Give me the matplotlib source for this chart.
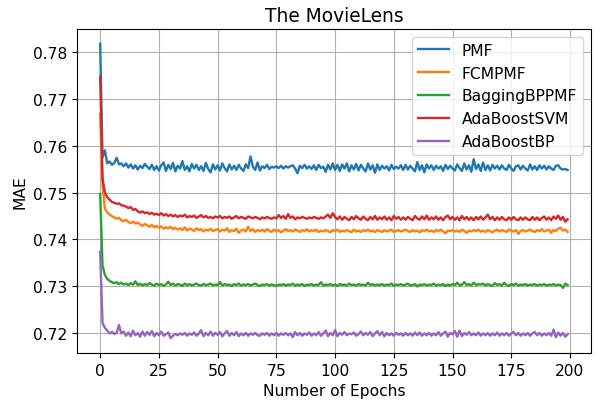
import matplotlib
matplotlib.use("Agg")
import matplotlib.pyplot as plt

# MAE per epoch (200 epochs each)

pmf = [
    0.7817, 0.7575, 0.7590, 0.7562, 0.7566, 0.7559, 0.7563, 0.7574, 0.7560, 0.7562,
    0.7556, 0.7562, 0.7553, 0.7560, 0.7551, 0.7558, 0.7549, 0.7557, 0.7552, 0.7561,
    0.7555, 0.7550, 0.7559, 0.7548, 0.7556, 0.7547, 0.7558, 0.7564, 0.7546, 0.7559,
    0.7550, 0.7563, 0.7545, 0.7557, 0.7551, 0.7567, 0.7548, 0.7556, 0.7545, 0.7561,
    0.7551, 0.7559, 0.7548, 0.7556, 0.7546, 0.7563, 0.7550, 0.7543, 0.7560, 0.7549,
    0.7558, 0.7547, 0.7562, 0.7552, 0.7545, 0.7560, 0.7549, 0.7557, 0.7548, 0.7559,
    0.7551, 0.7546, 0.7560, 0.7552, 0.7577, 0.7555, 0.7548, 0.7564, 0.7547, 0.7556,
    0.7552, 0.7559, 0.7550, 0.7555, 0.7553, 0.7556, 0.7552, 0.7557, 0.7551, 0.7556,
    0.7553, 0.7556, 0.7558, 0.7551, 0.7541, 0.7557, 0.7552, 0.7559, 0.7551, 0.7556,
    0.7550, 0.7558, 0.7548, 0.7559, 0.7552, 0.7555, 0.7544, 0.7559, 0.7549, 0.7562,
    0.7548, 0.7559, 0.7546, 0.7560, 0.7551, 0.7562, 0.7545, 0.7558, 0.7549, 0.7561,
    0.7547, 0.7559, 0.7551, 0.7545, 0.7562, 0.7549, 0.7558, 0.7542, 0.7560, 0.7548,
    0.7557, 0.7551, 0.7556, 0.7547, 0.7559, 0.7550, 0.7555, 0.7551, 0.7558, 0.7548,
    0.7559, 0.7549, 0.7557, 0.7551, 0.7545, 0.7565, 0.7548, 0.7558, 0.7543, 0.7560,
    0.7551, 0.7558, 0.7548, 0.7557, 0.7551, 0.7556, 0.7546, 0.7559, 0.7550, 0.7557,
    0.7551, 0.7547, 0.7560, 0.7552, 0.7546, 0.7562, 0.7549, 0.7558, 0.7544, 0.7571,
    0.7550, 0.7560, 0.7546, 0.7564, 0.7548, 0.7558, 0.7547, 0.7559, 0.7551, 0.7557,
    0.7549, 0.7558, 0.7551, 0.7548, 0.7559, 0.7551, 0.7546, 0.7556, 0.7558, 0.7549,
    0.7557, 0.7551, 0.7547, 0.7560, 0.7549, 0.7556, 0.7548, 0.7558, 0.7551, 0.7557,
    0.7549, 0.7556, 0.7551, 0.7548, 0.7557, 0.7558, 0.7551, 0.7549, 0.7550, 0.7548,
]

fcmpmf = [
    0.7667, 0.7515, 0.7466, 0.7458, 0.7453, 0.7450, 0.7447, 0.7444, 0.7446, 0.7441,
    0.7439, 0.7442, 0.7437, 0.7435, 0.7438, 0.7434, 0.7436, 0.7432, 0.7429, 0.7433,
    0.7430, 0.7427, 0.7431, 0.7426, 0.7429, 0.7425, 0.7428, 0.7423, 0.7426, 0.7424,
    0.7427, 0.7422, 0.7425, 0.7421, 0.7424, 0.7420, 0.7426, 0.7419, 0.7423, 0.7421,
    0.7418, 0.7424, 0.7420, 0.7422, 0.7417, 0.7421, 0.7419, 0.7423, 0.7418, 0.7420,
    0.7422, 0.7417, 0.7421, 0.7419, 0.7424, 0.7416, 0.7420, 0.7418, 0.7423, 0.7414,
    0.7419, 0.7421, 0.7417, 0.7427, 0.7418, 0.7422, 0.7416, 0.7420, 0.7418, 0.7421,
    0.7417, 0.7422, 0.7419, 0.7416, 0.7421, 0.7418, 0.7420, 0.7415, 0.7419, 0.7422,
    0.7418, 0.7420, 0.7417, 0.7421, 0.7419, 0.7416, 0.7420, 0.7418, 0.7422, 0.7417,
    0.7420, 0.7418, 0.7421, 0.7416, 0.7419, 0.7417, 0.7420, 0.7418, 0.7415, 0.7420,
    0.7418, 0.7421, 0.7416, 0.7419, 0.7417, 0.7420, 0.7418, 0.7415, 0.7421, 0.7417,
    0.7419, 0.7416, 0.7420, 0.7418, 0.7421, 0.7417, 0.7419, 0.7416, 0.7420, 0.7418,
    0.7416, 0.7420, 0.7417, 0.7419, 0.7421, 0.7416, 0.7418, 0.7420, 0.7417, 0.7419,
    0.7421, 0.7418, 0.7416, 0.7420, 0.7417, 0.7419, 0.7415, 0.7420, 0.7418, 0.7421,
    0.7417, 0.7419, 0.7416, 0.7420, 0.7418, 0.7421, 0.7417, 0.7413, 0.7419, 0.7418,
    0.7420, 0.7417, 0.7419, 0.7416, 0.7421, 0.7418, 0.7414, 0.7419, 0.7417, 0.7420,
    0.7418, 0.7421, 0.7417, 0.7419, 0.7416, 0.7420, 0.7418, 0.7415, 0.7419, 0.7421,
    0.7417, 0.7420, 0.7418, 0.7416, 0.7421, 0.7419, 0.7417, 0.7420, 0.7412, 0.7418,
    0.7420, 0.7417, 0.7419, 0.7421, 0.7418, 0.7416, 0.7420, 0.7418, 0.7422, 0.7417,
    0.7419, 0.7421, 0.7414, 0.7420, 0.7418, 0.7423, 0.7425, 0.7419, 0.7421, 0.7416,
]

bagging_bppmf = [
    0.7497, 0.7345, 0.7325, 0.7316, 0.7312, 0.7309, 0.7307, 0.7309, 0.7305, 0.7308,
    0.7304, 0.7306, 0.7303, 0.7307, 0.7304, 0.7311, 0.7303, 0.7306, 0.7302, 0.7305,
    0.7303, 0.7307, 0.7304, 0.7302, 0.7306, 0.7303, 0.7305, 0.7301, 0.7304, 0.7310,
    0.7303, 0.7306, 0.7302, 0.7305, 0.7304, 0.7301, 0.7306, 0.7303, 0.7305, 0.7302,
    0.7304, 0.7306, 0.7303, 0.7302, 0.7305, 0.7303, 0.7304, 0.7306, 0.7302, 0.7304,
    0.7303, 0.7309, 0.7302, 0.7305, 0.7303, 0.7304, 0.7301, 0.7305, 0.7303, 0.7306,
    0.7302, 0.7304, 0.7303, 0.7305, 0.7302, 0.7304, 0.7306, 0.7303, 0.7301, 0.7304,
    0.7303, 0.7305, 0.7302, 0.7304, 0.7303, 0.7301, 0.7304, 0.7303, 0.7305, 0.7302,
    0.7304, 0.7303, 0.7306, 0.7302, 0.7304, 0.7303, 0.7305, 0.7301, 0.7304, 0.7303,
    0.7305, 0.7302, 0.7304, 0.7303, 0.7309, 0.7302, 0.7304, 0.7303, 0.7305, 0.7302,
    0.7304, 0.7301, 0.7305, 0.7303, 0.7304, 0.7302, 0.7306, 0.7303, 0.7304, 0.7302,
    0.7305, 0.7303, 0.7304, 0.7302, 0.7308, 0.7303, 0.7305, 0.7302, 0.7304, 0.7303,
    0.7305, 0.7302, 0.7304, 0.7303, 0.7306, 0.7301, 0.7304, 0.7303, 0.7305, 0.7302,
    0.7304, 0.7306, 0.7302, 0.7303, 0.7305, 0.7300, 0.7304, 0.7303, 0.7305, 0.7302,
    0.7304, 0.7303, 0.7306, 0.7302, 0.7304, 0.7303, 0.7305, 0.7301, 0.7304, 0.7302,
    0.7305, 0.7303, 0.7308, 0.7302, 0.7304, 0.7309, 0.7303, 0.7305, 0.7302, 0.7308,
    0.7303, 0.7305, 0.7304, 0.7306, 0.7302, 0.7305, 0.7303, 0.7301, 0.7307, 0.7303,
    0.7305, 0.7302, 0.7308, 0.7303, 0.7301, 0.7305, 0.7303, 0.7306, 0.7302, 0.7304,
    0.7303, 0.7305, 0.7302, 0.7304, 0.7303, 0.7305, 0.7302, 0.7304, 0.7303, 0.7305,
    0.7302, 0.7304, 0.7303, 0.7305, 0.7302, 0.7304, 0.7303, 0.7297, 0.7306, 0.7303,
]

adaboost_svm = [
    0.7747, 0.7530, 0.7500, 0.7490, 0.7485, 0.7480, 0.7478, 0.7476, 0.7477, 0.7473,
    0.7472, 0.7470, 0.7467, 0.7469, 0.7463, 0.7465, 0.7460, 0.7457, 0.7460, 0.7456,
    0.7458, 0.7454, 0.7457, 0.7453, 0.7455, 0.7452, 0.7456, 0.7451, 0.7454, 0.7450,
    0.7453, 0.7449, 0.7452, 0.7448, 0.7451, 0.7449, 0.7453, 0.7447, 0.7450, 0.7448,
    0.7451, 0.7446, 0.7449, 0.7452, 0.7447, 0.7450, 0.7446, 0.7448, 0.7445, 0.7449,
    0.7447, 0.7450, 0.7445, 0.7448, 0.7446, 0.7449, 0.7444, 0.7447, 0.7450, 0.7445,
    0.7448, 0.7446, 0.7444, 0.7449, 0.7447, 0.7445, 0.7448, 0.7446, 0.7443, 0.7447,
    0.7445, 0.7448, 0.7446, 0.7444, 0.7447, 0.7445, 0.7452, 0.7446, 0.7450, 0.7444,
    0.7454, 0.7446, 0.7449, 0.7443, 0.7447, 0.7445, 0.7448, 0.7446, 0.7444, 0.7447,
    0.7445, 0.7448, 0.7446, 0.7444, 0.7447, 0.7445, 0.7449, 0.7453, 0.7446, 0.7456,
    0.7448, 0.7443, 0.7449, 0.7442, 0.7448, 0.7444, 0.7441, 0.7448, 0.7443, 0.7450,
    0.7445, 0.7442, 0.7449, 0.7444, 0.7441, 0.7448, 0.7443, 0.7450, 0.7442, 0.7447,
    0.7443, 0.7449, 0.7442, 0.7447, 0.7441, 0.7450, 0.7444, 0.7448, 0.7442, 0.7447,
    0.7442, 0.7448, 0.7444, 0.7441, 0.7450, 0.7445, 0.7442, 0.7449, 0.7443, 0.7451,
    0.7442, 0.7447, 0.7443, 0.7449, 0.7442, 0.7447, 0.7441, 0.7448, 0.7451, 0.7443,
    0.7448, 0.7442, 0.7447, 0.7441, 0.7450, 0.7443, 0.7448, 0.7442, 0.7447, 0.7441,
    0.7448, 0.7443, 0.7449, 0.7442, 0.7447, 0.7453, 0.7443, 0.7448, 0.7441, 0.7447,
    0.7442, 0.7448, 0.7443, 0.7441, 0.7447, 0.7442, 0.7448, 0.7443, 0.7441, 0.7447,
    0.7442, 0.7447, 0.7443, 0.7441, 0.7448, 0.7442, 0.7447, 0.7441, 0.7446, 0.7449,
    0.7442, 0.7447, 0.7441, 0.7449, 0.7444, 0.7451, 0.7442, 0.7448, 0.7438, 0.7443,
]

adaboost_bp = [
    0.7374, 0.7222, 0.7212, 0.7206, 0.7200, 0.7203, 0.7199, 0.7201, 0.7218, 0.7200,
    0.7204, 0.7195, 0.7202, 0.7194, 0.7206, 0.7196, 0.7201, 0.7193, 0.7204, 0.7195,
    0.7203, 0.7197, 0.7205, 0.7194, 0.7201, 0.7196, 0.7204, 0.7195, 0.7198, 0.7202,
    0.7190, 0.7195, 0.7199, 0.7196, 0.7200, 0.7197, 0.7201, 0.7195, 0.7200, 0.7197,
    0.7202, 0.7195, 0.7200, 0.7207, 0.7194, 0.7201, 0.7196, 0.7204, 0.7195, 0.7201,
    0.7197, 0.7203, 0.7194, 0.7200, 0.7205, 0.7195, 0.7201, 0.7196, 0.7203, 0.7194,
    0.7200, 0.7196, 0.7201, 0.7195, 0.7200, 0.7197, 0.7201, 0.7196, 0.7195, 0.7200,
    0.7197, 0.7201, 0.7195, 0.7200, 0.7196, 0.7201, 0.7195, 0.7200, 0.7197, 0.7201,
    0.7196, 0.7200, 0.7192, 0.7203, 0.7196, 0.7201, 0.7195, 0.7200, 0.7197, 0.7202,
    0.7195, 0.7200, 0.7196, 0.7203, 0.7195, 0.7200, 0.7206, 0.7194, 0.7201, 0.7196,
    0.7207, 0.7194, 0.7201, 0.7197, 0.7203, 0.7196, 0.7200, 0.7198, 0.7202, 0.7195,
    0.7199, 0.7204, 0.7196, 0.7201, 0.7197, 0.7203, 0.7194, 0.7200, 0.7205, 0.7196,
    0.7203, 0.7194, 0.7201, 0.7196, 0.7200, 0.7195, 0.7201, 0.7197, 0.7200, 0.7195,
    0.7201, 0.7196, 0.7200, 0.7195, 0.7202, 0.7196, 0.7202, 0.7195, 0.7200, 0.7196,
    0.7201, 0.7195, 0.7200, 0.7196, 0.7203, 0.7195, 0.7200, 0.7204, 0.7193, 0.7201,
    0.7198, 0.7205, 0.7193, 0.7206, 0.7194, 0.7201, 0.7197, 0.7203, 0.7196, 0.7200,
    0.7196, 0.7202, 0.7195, 0.7200, 0.7196, 0.7201, 0.7195, 0.7200, 0.7196, 0.7202,
    0.7195, 0.7200, 0.7196, 0.7201, 0.7195, 0.7200, 0.7203, 0.7196, 0.7201, 0.7195,
    0.7200, 0.7196, 0.7201, 0.7195, 0.7200, 0.7203, 0.7196, 0.7201, 0.7195, 0.7200,
    0.7196, 0.7201, 0.7195, 0.7208, 0.7192, 0.7202, 0.7195, 0.7201, 0.7193, 0.7198,
]

labels = ["PMF", "FCMPMF", "BaggingBPPMF", "AdaBoostSVM", "AdaBoostBP"]
epochs = list(range(len(pmf)))

plt.rcParams["font.size"] = 11.2

fig = plt.figure(figsize=(6, 4.1), dpi=100)
fig.subplots_adjust(left=0.128, right=0.985, top=0.927, bottom=0.137)
ax = fig.gca()

for series, name in zip([pmf, fcmpmf, bagging_bppmf, adaboost_svm, adaboost_bp], labels):
    ax.plot(epochs, series, label=name, linewidth=1.7)

ax.set_title("The MovieLens")
ax.set_xlabel("Number of Epochs")
ax.set_ylabel("MAE")
ax.grid(True)
ax.legend(loc="upper right")

fig.savefig("out.png", dpi=100)
